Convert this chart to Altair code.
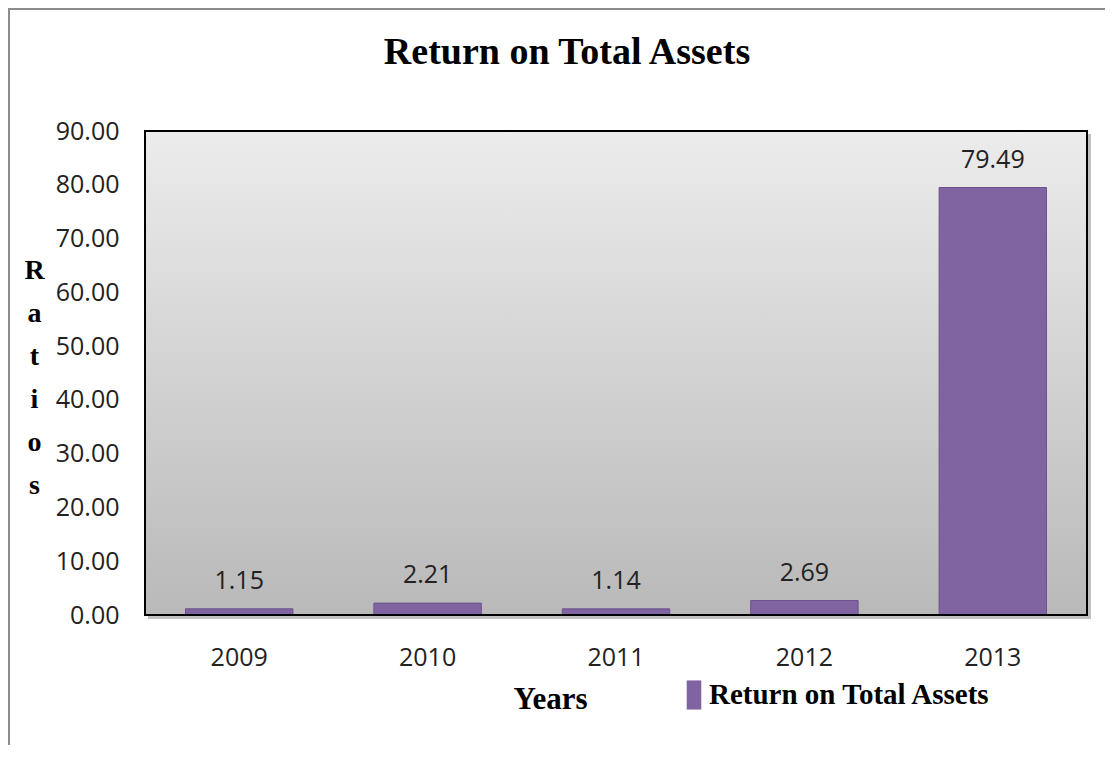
import altair as alt
import pandas as pd

years = ["2009", "2010", "2011", "2012", "2013"]
values = [1.15, 2.21, 1.14, 2.69, 79.49]
series = "Return on Total Assets"
y_ticks = [0, 10, 20, 30, 40, 50, 60, 70, 80, 90]

df = pd.DataFrame({"Year": years, "Value": values, "Series": [series] * len(years)})

W, H = 942, 484
SANS = "Open Sans"
SERIF = "Liberation Serif"

one = pd.DataFrame({"a": [0]})

shadow = alt.Chart(one).mark_rect(fill="#9a9a9a", opacity=0.6).encode(
    x=alt.value(3), x2=alt.value(W + 4), y=alt.value(3), y2=alt.value(H + 4)
)

bg = alt.Chart(one).mark_rect(
    fill=alt.Gradient(
        gradient="linear", x1=0, x2=0, y1=0, y2=1,
        stops=[alt.GradientStop(color="#ececec", offset=0),
               alt.GradientStop(color="#b9b9b9", offset=1)],
    )
).encode(x=alt.value(0), x2=alt.value(W), y=alt.value(0), y2=alt.value(H))

border = alt.Chart(one).mark_rect(
    fillOpacity=0, stroke="black", strokeWidth=2
).encode(x=alt.value(0), x2=alt.value(W), y=alt.value(0), y2=alt.value(H))

frame_left = alt.Chart(one).mark_rule(color="#8c8c8c", strokeWidth=2).encode(
    x=alt.value(-136), y=alt.value(-122), y2=alt.value(640)
)
frame_top = alt.Chart(one).mark_rule(color="#8c8c8c", strokeWidth=2).encode(
    x=alt.value(-137), x2=alt.value(1000), y=alt.value(-122)
)

base = alt.Chart(df)

x_enc = alt.X(
    "Year:N",
    sort=years,
    scale=alt.Scale(paddingInner=0.43, paddingOuter=0.215),
    axis=alt.Axis(
        title="Years", titleFont=SERIF, titleFontSize=31, titleFontWeight="bold",
        titleColor="black", titleX=405, titleY=93, titleAlign="center",
        titleBaseline="alphabetic",
        labelFont=SANS, labelFontSize=25, labelColor="#222222", labelPadding=30,
        labelAngle=0, ticks=False, domain=False, grid=False,
    ),
)

y_enc = alt.Y(
    "Value:Q",
    scale=alt.Scale(domain=[0, 90], nice=False),
    axis=alt.Axis(
        values=y_ticks, format=".2f",
        title=["R", "a", "t", "i", "o", "s"], titleFont=SERIF, titleFontSize=28,
        titleFontWeight="bold", titleColor="black", titleAngle=0,
        titleX=-111, titleY=147, titleAlign="center", titleBaseline="alphabetic",
        titleLineHeight=43,
        labelFont=SANS, labelFontSize=25, labelColor="#222222", labelPadding=26,
        ticks=False, domain=False, grid=True, gridColor="#8a8a8a", gridWidth=1,
    ),
)

bars = base.mark_bar(stroke="#6c528d", strokeWidth=1).encode(
    x=x_enc,
    y=y_enc,
    color=alt.Color(
        "Series:N",
        scale=alt.Scale(domain=[series], range=["#8064A2"]),
        legend=alt.Legend(
            title=None, orient="none", legendX=534, legendY=549,
            symbolType="M-0.5,-1H0.5V1H-0.5Z", symbolSize=850,
            symbolStrokeWidth=0, labelFont=SERIF, labelFontSize=29,
            labelFontWeight="bold", labelColor="black", labelOffset=0,
            padding=0, labelLimit=0,
        ),
    ),
)

labels = base.mark_text(
    font=SANS, fontSize=25, color="#222222", baseline="alphabetic", dy=-20
).encode(
    x=alt.X("Year:N", sort=years),
    y=alt.Y("Value:Q"),
    text=alt.Text("Value:Q", format=".2f"),
)

chart = alt.layer(frame_left, frame_top, shadow, bg, bars, labels, border).properties(
    width=W,
    height=H,
    title=alt.TitleParams(
        text="Return on Total Assets", font=SERIF, fontSize=38, fontWeight="bold",
        color="black", anchor="middle", dx=-49, baseline="alphabetic",
        frame="group", offset=0, dy=94,
    ),
    autosize=alt.AutoSizeParams(type="none"),
    padding={"left": 137, "top": 123, "right": 18, "bottom": 130},
).configure_view(stroke=None).configure(background="white")

chart.save("out.html", embed_options={"renderer": "svg", "actions": False})
